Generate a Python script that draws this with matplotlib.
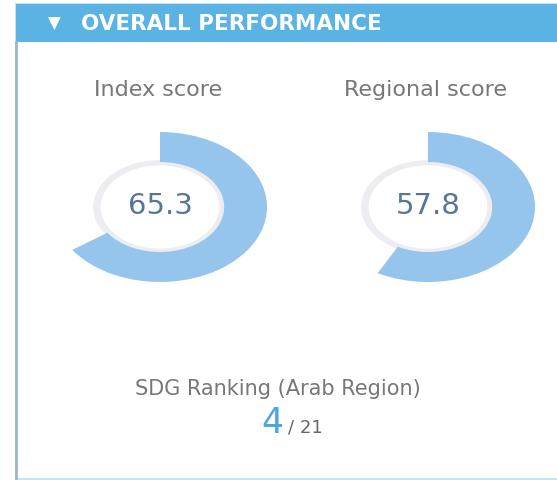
import matplotlib.pyplot as plt
from matplotlib.patches import Rectangle

# data
panel_title = "OVERALL PERFORMANCE"
score_labels = ["Index score", "Regional score"]
score_values = [65.3, 57.8]
score_max = 100
rank = 4
rank_total = 21
rank_label = "SDG Ranking (Arab Region)"

W, H = 557, 480
BLUE_HEAD = "#5AB3E3"
ARC = "#95C5EC"
RING = "#ECECF1"
NUM = "#56769A"
GREY = "#777777"

fig = plt.figure(figsize=(W / 100, H / 100), dpi=100)
bg = fig.add_axes([0, 0, 1, 1])
bg.set_xlim(0, W)
bg.set_ylim(H, 0)
bg.axis("off")

# panel frame + header
bg.add_patch(Rectangle((16, 4), W, 475, facecolor="white",
                       edgecolor="#C4E6F4", lw=1.5))
bg.plot([16, 16], [42, 479], color="#9DB6D0", lw=2)
bg.add_patch(Rectangle((16, 4), W, 38, facecolor=BLUE_HEAD, edgecolor="none"))
bg.text(48, 24, "\u25BC", color="white", fontsize=12, va="center", ha="left")
bg.text(81, 24, panel_title, color="white", fontsize=15.5, fontweight="bold",
        va="center", ha="left")

# donuts
centers_x = [160, 428]
cy, rx, ry = 207, 107, 75
for cx, label, val in zip(centers_x, score_labels, score_values):
    ax = fig.add_axes([(cx - rx) / W, (H - cy - ry) / H, 2 * rx / W, 2 * ry / H])
    ax.pie([1], radius=0.625, colors=[RING],
           wedgeprops=dict(width=0.07, edgecolor="none"))
    ax.pie([val, score_max - val], radius=1.0, colors=[ARC, "none"],
           startangle=90, counterclock=False,
           wedgeprops=dict(width=0.4, edgecolor="none"))
    ax.set_aspect("auto")
    ax.set_xlim(-1, 1)
    ax.set_ylim(-1, 1)
    ax.text(0, 0.02, f"{val:.1f}", ha="center", va="center", fontsize=21,
            color=NUM)
    bg.text(cx - 2, 90, label, ha="center", va="center", fontsize=16,
            color=GREY)

# ranking
bg.text(278, 389, rank_label, ha="center", va="center", fontsize=15,
        color=GREY)
bg.text(283, 433, str(rank), ha="right", va="baseline", fontsize=25,
        color="#4AA5E0")
bg.text(288, 433, f"/ {rank_total}", ha="left", va="baseline", fontsize=13,
        color="#666666")

fig.savefig("out.png", dpi=100)
